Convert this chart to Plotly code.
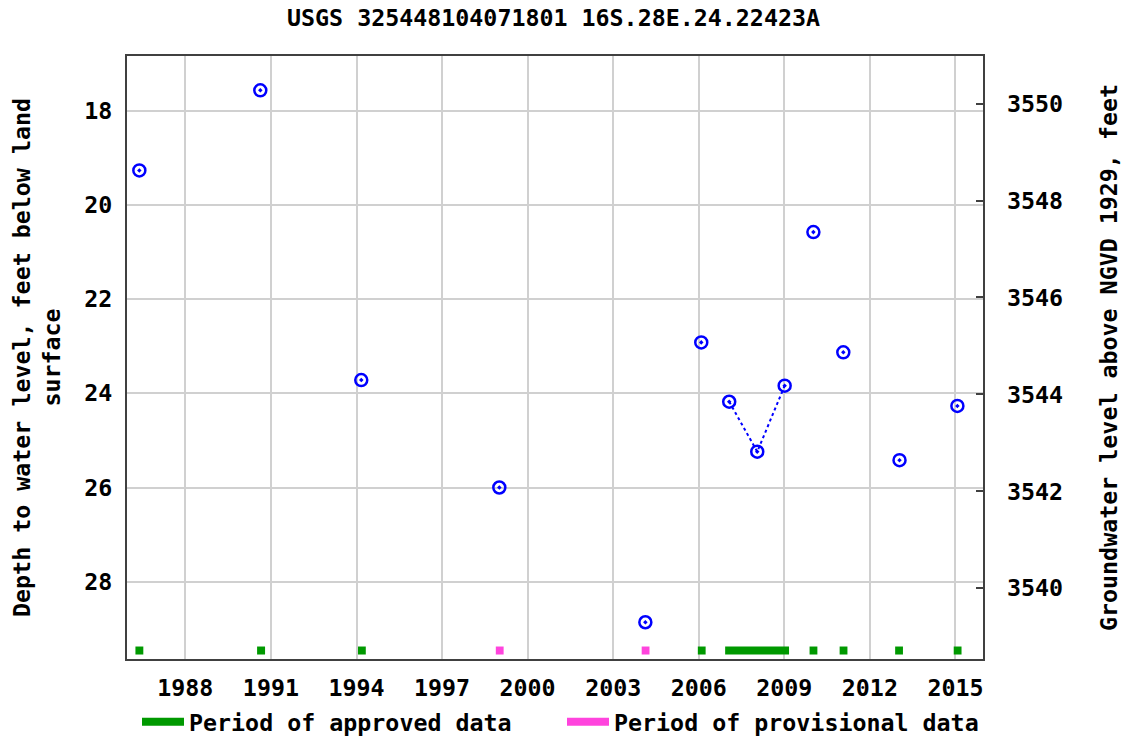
import plotly.graph_objects as go
from datetime import date

# ---------------- data ----------------
title_text = "USGS 325448104071801 16S.28E.24.22423A"

meas_dates = ["1986-05-22", "1990-08-18", "1994-03-03", "1999-01-04", "2004-02-17",
              "2006-02-02", "2007-01-26", "2008-01-20", "2009-01-05", "2010-01-08",
              "2011-01-26", "2013-01-15", "2015-01-26"]
depth_ft = [19.27, 17.57, 23.72, 26.00, 28.86,
            22.92, 24.18, 25.24, 23.84, 20.58,
            23.13, 25.42, 24.27]
# points sharing a group id are joined by a dotted line
series_group = [0, 1, 2, 3, 4, 5, 6, 6, 6, 7, 8, 9, 10]

approved_start = ["1986-04-02", "1990-07-08", "1994-01-20", "2005-12-20", "2006-12-05",
                  "2009-11-20", "2010-12-10", "2012-11-20", "2014-12-10"]
approved_end = ["1986-07-12", "1990-10-18", "1994-04-30", "2006-03-30", "2009-03-02",
                "2010-02-28", "2011-03-20", "2013-02-28", "2015-03-20"]
provisional_start = ["1998-11-20", "2004-01-01"]
provisional_end = ["1999-02-28", "2004-04-10"]

year_labels = ["1988", "1991", "1994", "1997", "2000", "2003", "2006", "2009", "2012", "2015"]
depth_ticks = [18, 20, 22, 24, 26, 28]
elev_ticks = [3540, 3542, 3544, 3546, 3548, 3550]

x_range = ["1985-12-15", "2015-12-20"]
depth_range = [29.64, 16.842]
elev_range = [3538.542, 3550.981]
period_bar_depth = 29.46

# ---------------- figure ----------------
FONT_FAMILY = "DejaVu Sans Mono"
FS = 23.3
font = dict(family=FONT_FAMILY, size=FS, color="black", weight="bold")

W, H = 1124, 739

fig = go.Figure()


def segments(starts, ends, yv):
    xs, ys = [], []
    for s, e in zip(starts, ends):
        xs += [s, e, None]
        ys += [yv, yv, None]
    return xs, ys


ax, ay = segments(approved_start, approved_end, period_bar_depth)
fig.add_trace(go.Scatter(x=ax, y=ay, mode="lines", name="Period of approved data",
                         line=dict(color="#009900", width=8), hoverinfo="skip"))
px_, py_ = segments(provisional_start, provisional_end, period_bar_depth)
fig.add_trace(go.Scatter(x=px_, y=py_, mode="lines", name="Period of provisional data",
                         line=dict(color="#ff44dd", width=8), hoverinfo="skip"))

# dotted connecting lines for continuous groups
for g in sorted(set(series_group)):
    idx = [i for i, v in enumerate(series_group) if v == g]
    if len(idx) > 1:
        fig.add_trace(go.Scatter(x=[meas_dates[i] for i in idx], y=[depth_ft[i] for i in idx],
                                 mode="lines", line=dict(color="#0000ff", width=2, dash="dot"),
                                 showlegend=False, hoverinfo="skip"))

fig.add_trace(go.Scatter(x=meas_dates, y=depth_ft, mode="markers", showlegend=False,
                         marker=dict(symbol="circle-open-dot", size=12, color="#0000ff",
                                     line=dict(width=2.5, color="#0000ff"))))

# invisible trace to activate right axis
fig.add_trace(go.Scatter(x=[meas_dates[0]], y=[elev_ticks[0]], yaxis="y2", mode="markers",
                         marker=dict(opacity=0), showlegend=False, hoverinfo="skip"))

tickvals = [date(int(y), 1, 1).isoformat() for y in year_labels]

fig.update_layout(
    width=W, height=H,
    margin=dict(l=127, r=141, t=56, b=80, autoexpand=False),
    paper_bgcolor="white", plot_bgcolor="white",
    font=font,
    title=dict(text=title_text, x=553.5 / W, xanchor="center",
               y=1 - 18 / H, yanchor="middle", font=font),
    xaxis=dict(type="date", range=x_range, tickvals=tickvals, ticktext=year_labels,
               showgrid=True, gridcolor="#d0d0d0", gridwidth=2, zeroline=False,
               showline=True, mirror=True, linecolor="#404040", linewidth=2,
               ticks="", ticklabelstandoff=7, tickfont=font),
    yaxis=dict(range=depth_range, tickvals=depth_ticks, showgrid=True, gridcolor="#d0d0d0",
               gridwidth=2, zeroline=False, showline=True, mirror=True,
               linecolor="#404040", linewidth=2, ticks="", ticklabelstandoff=8,
               tickfont=font,
               title=dict(text="Depth to water level, feet below land<br>surface",
                          font=font, standoff=17)),
    yaxis2=dict(range=elev_range, tickvals=elev_ticks, overlaying="y", side="right",
                showgrid=False, zeroline=False, showline=False, ticks="inside",
                ticklen=7, tickwidth=2, tickcolor="#404040", ticklabelstandoff=23,
                tickfont=font,
                title=dict(text="Groundwater level above NGVD 1929, feet", font=font,
                           standoff=38)),
    legend=dict(orientation="h", x=10 / 856, xanchor="left", yref="container",
                y=1 - 722 / H, yanchor="middle", itemwidth=42,
                font=font, entrywidth=368, bgcolor="rgba(0,0,0,0)"),
    showlegend=True,
)

fig.write_html("out.html", config={"displayModeBar": False},
               post_script="document.body.style.margin='0px';")
